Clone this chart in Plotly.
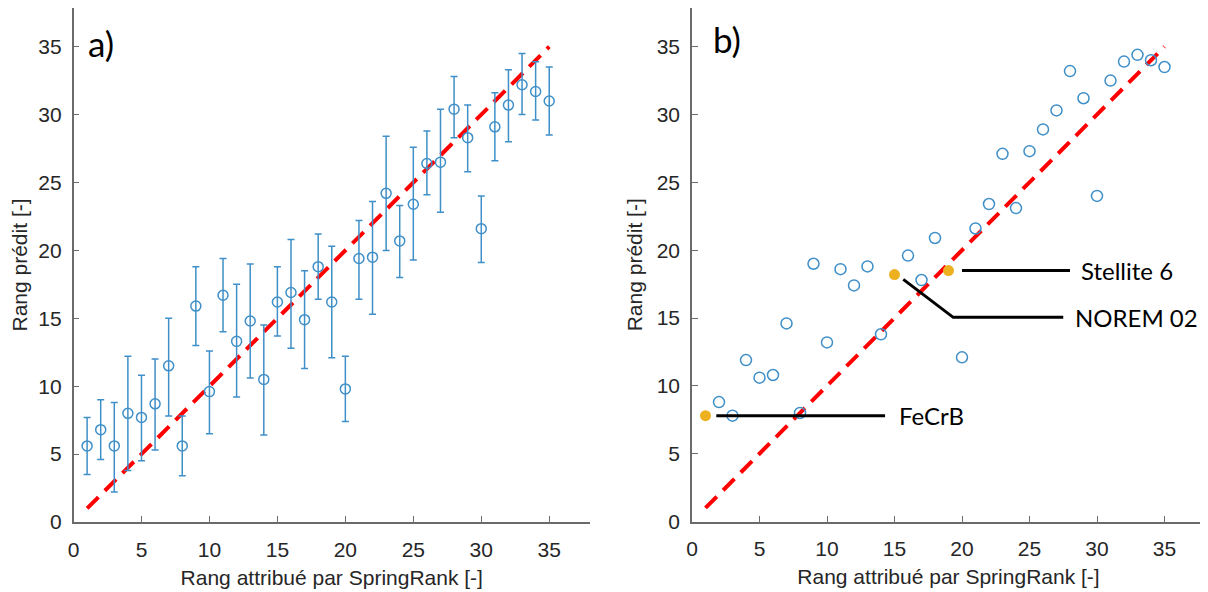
import plotly.graph_objects as go
from plotly.subplots import make_subplots

# Panel a) : mean predicted rank with its spread
rank_a = list(range(1, 36))
pred_mean = [5.6, 6.8, 5.6, 8.0, 7.7, 8.7, 11.5, 5.6, 15.9, 9.6, 16.7, 13.3, 14.8, 10.5, 16.2,
             16.9, 14.9, 18.8, 16.2, 9.8, 19.4, 19.5, 24.2, 20.7, 23.4, 26.4, 26.5, 30.4, 28.3,
             21.6, 29.1, 30.7, 32.2, 31.7, 31.0]
pred_upper = [7.7, 9.0, 8.8, 12.2, 10.8, 12.0, 15.0, 7.8, 18.8, 12.6, 19.4, 17.5, 19.0, 14.5, 18.8,
              20.8, 18.5, 21.2, 20.3, 12.2, 22.2, 23.6, 28.4, 23.3, 27.6, 28.8, 30.4, 32.8, 30.7,
              24.0, 31.6, 33.3, 34.5, 33.9, 33.5]
pred_lower = [3.5, 4.6, 2.2, 3.8, 4.5, 5.3, 7.8, 3.4, 13.0, 6.5, 14.0, 9.2, 10.6, 6.4, 13.7,
              12.8, 11.3, 16.4, 12.1, 7.4, 16.4, 15.3, 20.0, 18.0, 19.3, 24.1, 22.8, 28.3, 25.8,
              19.1, 26.6, 28.0, 30.0, 29.6, 28.5]

# Panel b) : single prediction, three materials highlighted
rank_b = [2, 3, 4, 5, 6, 7, 8, 9, 10, 11, 12, 13, 14, 16, 17, 18,
          20, 21, 22, 23, 24, 25, 26, 27, 28, 29, 30, 31, 32, 33, 34, 35]
pred_b = [8.8, 7.8, 11.9, 10.6, 10.8, 14.6, 8.0, 19.0, 13.2, 18.6, 17.4, 18.8, 13.8, 19.6, 17.8, 20.9,
          12.1, 21.6, 23.4, 27.1, 23.1, 27.3, 28.9, 30.3, 33.2, 31.2, 24.0, 32.5, 33.9, 34.4, 34.0, 33.5]
materials = ["FeCrB", "NOREM 02", "Stellite 6"]
mat_rank = [1, 15, 19]
mat_pred = [7.8, 18.2, 18.5]

# leader lines for the labels (x list, y list) and label anchor
leaders = {
    "FeCrB": ([1.8, 14.3], [7.8, 7.8]),
    "NOREM 02": ([15.65, 19.35, 27.5], [17.85, 15.05, 15.05]),
    "Stellite 6": ([20.0, 28.0], [18.5, 18.5]),
}
label_pos = {"FeCrB": (15.2, 7.8), "NOREM 02": (28.2, 15.05), "Stellite 6": (28.7, 18.5)}

ideal = [1, 35]
ticks = [0, 5, 10, 15, 20, 25, 30, 35]

BLUE = "#3f8fc8"
ORANGE = "#EDB120"
AXIS = "#6b6b6b"
TXT = "#262626"

fig = make_subplots(rows=1, cols=2)

# a)
fig.add_trace(go.Scatter(
    x=ideal, y=ideal, mode="lines",
    line=dict(color="#ff0000", width=4, dash="16px,9px"),
    showlegend=False), row=1, col=1)
fig.add_trace(go.Scatter(
    x=rank_a, y=pred_mean, mode="markers",
    marker=dict(symbol="circle-open", size=10, color=BLUE, line=dict(width=1.5, color=BLUE)),
    error_y=dict(type="data", symmetric=False,
                 array=[u - m for u, m in zip(pred_upper, pred_mean)],
                 arrayminus=[m - l for m, l in zip(pred_mean, pred_lower)],
                 color=BLUE, thickness=1.5, width=3.5),
    showlegend=False), row=1, col=1)

# b)
fig.add_trace(go.Scatter(
    x=ideal, y=ideal, mode="lines",
    line=dict(color="#ff0000", width=4, dash="16px,9px"),
    showlegend=False), row=1, col=2)
fig.add_trace(go.Scatter(
    x=rank_b, y=pred_b, mode="markers",
    marker=dict(symbol="circle-open", size=11, color=BLUE, line=dict(width=1.5, color=BLUE)),
    showlegend=False), row=1, col=2)
for name in materials:
    lx, ly = leaders[name]
    fig.add_trace(go.Scatter(x=lx, y=ly, mode="lines", line=dict(color="black", width=3),
                             showlegend=False), row=1, col=2)
fig.add_trace(go.Scatter(
    x=mat_rank, y=mat_pred, mode="markers",
    marker=dict(symbol="circle", size=11, color=ORANGE),
    showlegend=False), row=1, col=2)

for name in materials:
    px_, py_ = label_pos[name]
    fig.add_annotation(x=px_, y=py_, xref="x2", yref="y2", text=name, showarrow=False,
                       xanchor="left", yanchor="middle",
                       font=dict(family="Lato, Open Sans, sans-serif", size=24, color="black"))

fig.add_annotation(x=0.9, y=35.3, xref="x", yref="y", text="a)", showarrow=False,
                   xanchor="left", yanchor="middle",
                   font=dict(family="Lato, Open Sans, sans-serif", size=35, color="black"))
fig.add_annotation(x=1.4, y=35.6, xref="x2", yref="y2", text="b)", showarrow=False,
                   xanchor="left", yanchor="middle",
                   font=dict(family="Lato, Open Sans, sans-serif", size=35, color="black"))

axis_style = dict(
    ticks="inside", tickvals=ticks, ticklen=6, tickcolor=AXIS,
    showline=True, linecolor=AXIS, linewidth=1.5, showgrid=False, zeroline=False,
    automargin=False,
    tickfont=dict(family="Liberation Sans, Arial, sans-serif", size=21, color=TXT),
)
title_font = dict(family="Liberation Sans, Arial, sans-serif", size=21, color=TXT)

fig.update_xaxes(**axis_style, range=[0, 38], ticklabelstandoff=8)
fig.update_yaxes(**axis_style, range=[0, 37.85], ticklabelstandoff=6)

# the page body has an 8px margin, so the figure is 1200x584 and placed at (8, 8)
fig.update_layout(
    xaxis=dict(domain=[0.0546, 0.485],
               title=dict(text="Rang attribué par SpringRank [-]", font=title_font, standoff=10)),
    yaxis=dict(domain=[0.1199, 1.0],
               title=dict(text="Rang prédit [-]", font=title_font, standoff=8)),
    xaxis2=dict(domain=[0.57, 0.9975],
                title=dict(text="Rang attribué par SpringRank [-]", font=title_font, standoff=10)),
    yaxis2=dict(domain=[0.1207, 1.0],
                title=dict(text="Rang prédit [-]", font=title_font, standoff=8)),
    width=1200, height=584,
    margin=dict(l=0, r=0, t=0, b=0),
    paper_bgcolor="white", plot_bgcolor="white",
)

fig.write_html("out.html")
